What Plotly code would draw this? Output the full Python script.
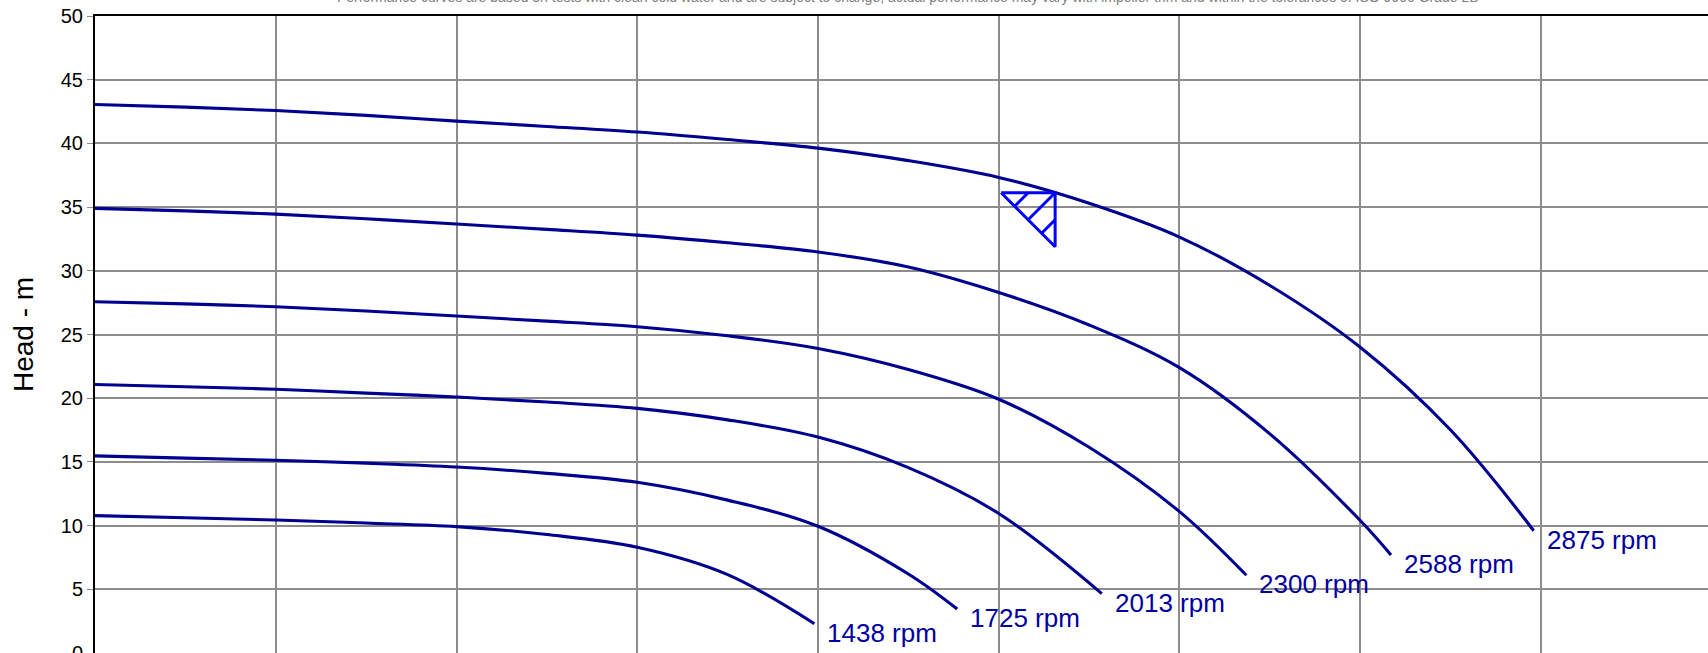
import plotly.graph_objects as go

# Pump head curves at six speeds (flow vs head)
flow_2875 = [0, 5, 10, 15, 20, 25, 30, 35, 40, 45, 50, 55, 60, 65, 70, 75, 79.6]
head_2875 = [43.05, 42.85, 42.58, 42.2, 41.75, 41.33, 40.89, 40.3, 39.63, 38.65, 37.33, 35.3, 32.65, 28.85, 24.0, 17.5, 9.6]

flow_2588 = [0, 5, 10, 15, 20, 25, 30, 35, 40, 45, 50, 55, 60, 65, 70, 71.7]
head_2588 = [34.9, 34.7, 34.45, 34.08, 33.67, 33.25, 32.8, 32.2, 31.48, 30.3, 28.3, 25.75, 22.4, 17.2, 10.4, 7.7]

flow_2300 = [0, 5, 10, 15, 20, 25, 30, 35, 40, 45, 50, 55, 60, 63.7]
head_2300 = [27.57, 27.4, 27.18, 26.85, 26.45, 26.05, 25.61, 24.9, 23.9, 22.25, 19.92, 16.15, 11.1, 6.1]

flow_2013 = [0, 5, 10, 15, 20, 25, 30, 35, 40, 45, 50, 55.7]
head_2013 = [21.08, 20.9, 20.7, 20.4, 20.1, 19.7, 19.2, 18.3, 16.95, 14.55, 10.95, 4.66]

flow_1725 = [0, 5, 10, 15, 20, 25, 30, 35, 40, 45, 47.7]
head_1725 = [15.47, 15.3, 15.13, 14.9, 14.6, 14.1, 13.4, 12.0, 9.95, 6.2, 3.45]

flow_1438 = [0, 5, 10, 15, 20, 25, 30, 35, 39.8]
head_1438 = [10.78, 10.62, 10.44, 10.2, 9.92, 9.3, 8.3, 6.15, 2.3]

speed_labels = ["2875 rpm", "2588 rpm", "2300 rpm", "2013 rpm", "1725 rpm", "1438 rpm"]

# Duty point on the top curve
duty_flow = 53.12
duty_head = 36.13

chart_title = ("Performance curves are based on tests with clean cold water and are subject to change; "
               "actual performance may vary with impeller trim and within the tolerances of ISO 9906 Grade 2B")

curves = [
    (flow_2875, head_2875),
    (flow_2588, head_2588),
    (flow_2300, head_2300),
    (flow_2013, head_2013),
    (flow_1725, head_1725),
    (flow_1438, head_1438),
]

W, H = 1708, 653
M_L, M_R, M_T, M_B = 94.5, 0, 16, 0
X_RANGE = [0, 89.24]
Y_RANGE = [0, 50]
plot_w = W - M_L - M_R
plot_h = H - M_T - M_B
x_per_px = (X_RANGE[1] - X_RANGE[0]) / plot_w
y_per_px = (Y_RANGE[1] - Y_RANGE[0]) / plot_h

LINE_COLOR = "#000090"
LABEL_COLOR = "#0000A0"
FONT = "Arial, Liberation Sans, sans-serif"

fig = go.Figure()

for (q, h), name in zip(curves, speed_labels):
    fig.add_trace(go.Scatter(
        x=q, y=h, mode="lines", name=name,
        line=dict(color=LINE_COLOR, width=3.1, shape="spline", smoothing=1.0),
        hoverinfo="x+y+name", showlegend=False,
    ))
    fig.add_annotation(
        x=q[-1], y=h[-1], xref="x", yref="y", text=name, showarrow=False,
        xanchor="left", yanchor="middle", xshift=11, yshift=-9,
        font=dict(family=FONT, size=26, color=LABEL_COLOR),
    )

# Hatched duty-point triangle (right angle sits on the curve)
tri_px = 54
dx = tri_px * x_per_px
dy = tri_px * y_per_px
cx, cy = duty_flow, duty_head
lx, ly = cx - dx, cy
bx, by = cx, cy - dy
tri_x = [lx, cx, bx, lx, None]
tri_y = [ly, cy, by, ly, None]
# hatch strokes perpendicular to the hypotenuse
for (sx, sy), f in [(((lx + cx) / 2, cy), 0.25), ((cx, cy), 0.5), ((cx, (cy + by) / 2), 0.75)]:
    tri_x += [sx, lx + f * (bx - lx), None]
    tri_y += [sy, ly + f * (by - ly), None]
fig.add_trace(go.Scatter(
    x=tri_x, y=tri_y, mode="lines",
    line=dict(color="#0000FF", width=3),
    hoverinfo="skip", showlegend=False,
))

fig.add_annotation(
    text=chart_title, xref="paper", yref="paper",
    x=(908 - M_L) / plot_w, y=1 + 9 / plot_h,
    xanchor="center", yanchor="bottom", showarrow=False,
    font=dict(family=FONT, size=14, color="#808080"),
)

fig.update_layout(
    width=W, height=H,
    margin=dict(l=M_L, r=M_R, t=M_T, b=M_B, pad=0, autoexpand=False),
    paper_bgcolor="white", plot_bgcolor="white",
    font=dict(family=FONT, color="black"),
    showlegend=False,
)
fig.update_xaxes(
    range=X_RANGE, dtick=10, showgrid=True, gridcolor="#8c8c8c", gridwidth=1.5,
    showline=True, linecolor="black", linewidth=2, mirror=True,
    zeroline=False, ticks="outside", ticklen=6, tickcolor="#8c8c8c",
    automargin=False, tickfont=dict(size=20),
)
fig.update_yaxes(
    range=Y_RANGE, dtick=5, showgrid=True, gridcolor="#8c8c8c", gridwidth=1.5,
    showline=True, linecolor="black", linewidth=2, mirror=False,
    zeroline=False, ticks="outside", ticklen=6, tickcolor="#8c8c8c",
    tickfont=dict(size=20, color="black"), automargin=False,
    ticklabeloverflow="allow",
    title=dict(text="Head - m", font=dict(size=28), standoff=19),
)

fig.write_html("out.html")
